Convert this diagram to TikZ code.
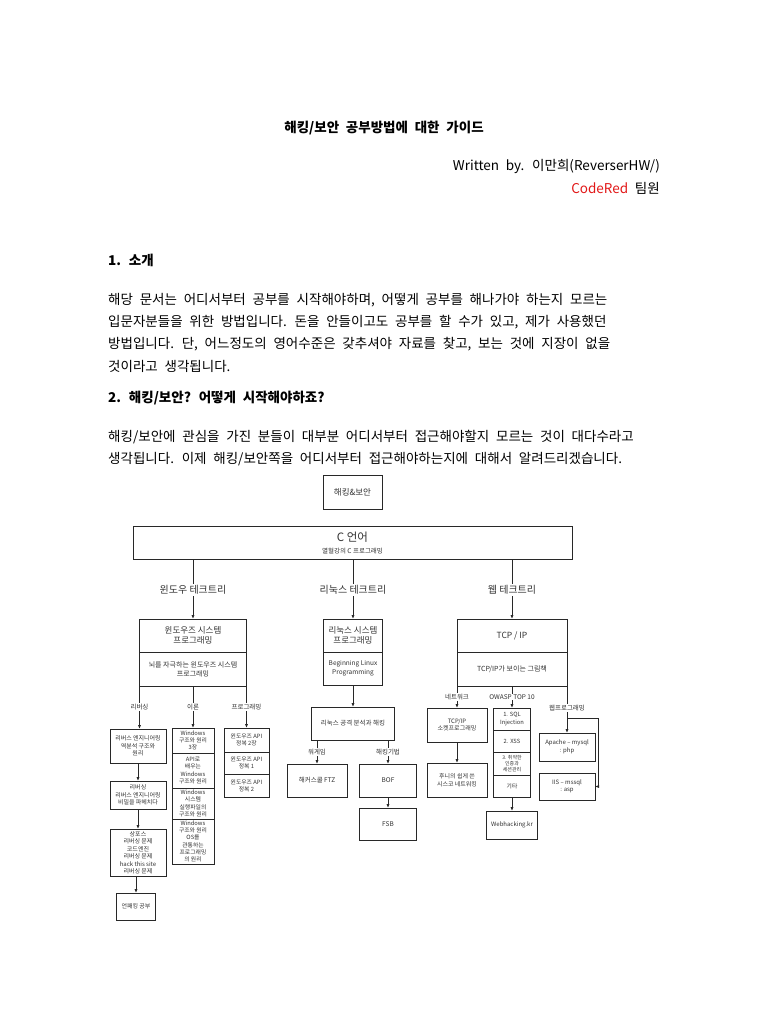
\documentclass[tikz,border=0pt]{standalone}
\usepackage{fontspec}
\setmainfont{Noto Sans CJK KR}
\usepackage{tikz}
\usepackage{xcolor}
\usetikzlibrary{positioning,arrows.meta,calc}
\definecolor{crred}{RGB}{226,24,24}
\definecolor{crline}{RGB}{40,40,40}
\definecolor{crtext}{RGB}{50,50,50}
\newcommand{\bodyfont}{\fontsize{13.5}{16}\selectfont\spaceskip=0.5em\relax}
\tikzset{
  txt/.style={anchor=west, inner sep=0pt, font=\bodyfont},
  head/.style={anchor=west, inner sep=0pt, font=\bodyfont\bfseries},
  box/.style={draw=crline, fill=white, align=center, inner sep=1pt, outer sep=0pt, line width=0.8pt, text=crtext, font=\fontsize{6}{7.5}\selectfont},
  part/.style={box, font=\fontsize{5.8}{7.2}\selectfont},
  lbl/.style={fill=white, inner sep=1pt, text=crtext, font=\fontsize{6.5}{7.5}\selectfont},
  tree/.style={fill=white, inner sep=1.5pt, text=crtext, font=\fontsize{10}{11}\selectfont},
  arrow/.style={-{Latex[length=4pt,width=3.2pt]}, line width=0.8pt, crline},
  link/.style={line width=0.8pt, crline}
}

\begin{document}
\begin{tikzpicture}[x=1pt, y=-1pt]
    \useasboundingbox[fill=white] (0,0) rectangle (768,1024);

    \node[inner sep=0pt, font=\bodyfont\bfseries] (title) at (384,128) {해킹/보안 공부방법에 대한 가이드};
    \node[txt, anchor=east] (byline) at (660,166) {Written by. 이만희(ReverserHW/)};
    \node[txt, anchor=east] (team) at (660,188) {\textcolor{crred}{CodeRed} 팀원};

    \node[head] (sec1) at (108,260) {1. 소개};
    \node[txt] (p1) at (108,300) {해당 문서는 어디서부터 공부를 시작해야하며, 어떻게 공부를 해나가야 하는지 모르는};
    \node[txt] (p2) at (108,322) {입문자분들을 위한 방법입니다. 돈을 안들이고도 공부를 할 수가 있고, 제가 사용했던};
    \node[txt] (p3) at (108,344) {방법입니다. 단, 어느정도의 영어수준은 갖추셔야 자료를 찾고, 보는 것에 지장이 없을};
    \node[txt] (p4) at (108,366) {것이라고 생각됩니다.};

    \node[head] (sec2) at (108,398) {2. 해킹/보안? 어떻게 시작해야하죠?};
    \node[txt] (q1) at (108,437) {해킹/보안에 관심을 가진 분들이 대부분 어디서부터 접근해야할지 모르는 것이 대다수라고};
    \node[txt] (q2) at (108,459) {생각됩니다. 이제 해킹/보안쪽을 어디서부터 접근해야하는지에 대해서 알려드리겠습니다.};

    \node[box, minimum width=59, minimum height=34, font=\fontsize{8.5}{9}\selectfont] (hack) at (352.5,492) {해킹\&보안};
    \node[box, minimum width=439, minimum height=33] (clang) at (352.5,542.5) {};
    \node[text=crtext, font=\fontsize{11.5}{12}\selectfont] (ctitle) at (352.5,537) {C 언어};
    \node[text=crtext, font=\fontsize{6.5}{7}\selectfont] (csub) at (352.5,551) {열혈강의 C 프로그래밍};

    \node[box, minimum width=107, minimum height=33, font=\fontsize{8.5}{10.5}\selectfont] (winA) at (193,635.5) {윈도우즈 시스템\\프로그래밍};
    \node[box, minimum width=107, minimum height=34, font=\fontsize{7}{9}\selectfont, below=0pt of winA] (winB) {뇌를 자극하는 윈도우즈 시스템\\프로그래밍};

    \node[box, minimum width=59, minimum height=33, font=\fontsize{8.5}{10.5}\selectfont] (linA) at (353,635.5) {리눅스 시스템\\프로그래밍};
    \node[box, minimum width=59, minimum height=33, font=\fontsize{6.5}{8.5}\selectfont, below=0pt of linA] (linB) {Beginning Linux\\Programming};

    \node[box, minimum width=110, minimum height=33, font=\fontsize{8.5}{10}\selectfont] (webA) at (512,635.5) {TCP / IP};
    \node[box, minimum width=110, minimum height=34, font=\fontsize{7}{8.5}\selectfont, below=0pt of webA] (webB) {TCP/IP가 보이는 그림책};

    \node[box, minimum width=56, minimum height=34] (rev1) at (138,746) {리버스 엔지니어링\\역분석 구조와\\원리};
    \node[box, minimum width=56, minimum height=28] (rev2) at (138,795) {리버싱\\리버스 엔지니어링\\비밀을 파헤치다};
    \node[box, minimum width=56, minimum height=47] (rev3) at (138,852.5) {상포스\\리버싱 문제\\코드엔진\\리버싱 문제\\hack this site\\리버싱 문제};
    \node[box, minimum width=39, minimum height=27] (rev4) at (136,906.5) {언패킹 공부};

    \node[part, minimum width=42, minimum height=25] (th1) at (193,740.5) {Windows\\구조와 원리\\3장};
    \node[part, minimum width=42, minimum height=35, below=0pt of th1] (th2) {API로\\배우는\\Windows\\구조와 원리};
    \node[part, minimum width=42, minimum height=31, below=0pt of th2] (th3) {Windows\\시스템\\실행파일의\\구조와 원리};
    \node[part, minimum width=42, minimum height=45, below=0pt of th3] (th4) {Windows\\구조와 원리\\OS를\\관통하는\\프로그래밍\\의 원리};

    \node[part, minimum width=45, minimum height=24] (pr1) at (246.5,740) {윈도우즈 API\\정복 2장};
    \node[part, minimum width=45, minimum height=22, below=0pt of pr1] (pr2) {윈도우즈 API\\정복 1};
    \node[part, minimum width=45, minimum height=23, below=0pt of pr2] (pr3) {윈도우즈 API\\정복 2};

    \node[box, minimum width=83, minimum height=33, font=\fontsize{6.5}{8}\selectfont] (latk) at (353,723.5) {리눅스 공격 분석과 해킹};
    \node[box, minimum width=60, minimum height=33, font=\fontsize{6.5}{8}\selectfont] (ftz) at (317,780.5) {해커스쿨 FTZ};
    \node[box, minimum width=57, minimum height=33, font=\fontsize{6.5}{8}\selectfont] (bof) at (388,780.5) {BOF};
    \node[box, minimum width=57, minimum height=32, font=\fontsize{6.5}{8}\selectfont] (fsb) at (388,824) {FSB};

    \node[box, minimum width=60, minimum height=34] (tcps) at (457,725) {TCP/IP\\소켓프로그래밍};
    \node[box, minimum width=60, minimum height=34] (cisco) at (457,780) {후니의 쉽게 쓴\\시스코 네트워킹};
    \node[part, minimum width=37, minimum height=22] (ow1) at (512,719) {1. SQL\\Injection};
    \node[part, minimum width=37, minimum height=22, below=0pt of ow1] (ow2) {2. XSS};
    \node[part, minimum width=37, minimum height=23, below=0pt of ow2, font=\fontsize{5}{6}\selectfont] (ow3) {3. 취약한\\인증과\\세션관리};
    \node[part, minimum width=37, minimum height=22, below=0pt of ow3] (ow4) {기타};
    \node[box, minimum width=51, minimum height=28] (whk) at (512,825) {Webhacking.kr};
    \node[box, minimum width=56, minimum height=28] (apache) at (567,747) {Apache -- mysql\\: php};
    \node[box, minimum width=56, minimum height=27] (iis) at (567,786.5) {IIS -- mssql\\: asp};

    \draw[arrow] (clang.south -| winA.north) -- (winA.north);
    \draw[arrow] (clang.south -| linA.north) -- (linA.north);
    \draw[arrow] (clang.south -| webA.north) -- (webA.north);

    \draw[arrow] (winB.south west) -- (winB.south west |- rev1.north);
    \draw[arrow] (winB.south) -- (th1.north);
    \draw[arrow] (winB.south east) -- (winB.south east |- pr1.north);
    \draw[arrow] (rev1) -- (rev2);
    \draw[arrow] (rev2) -- (rev3);
    \draw[arrow] (rev3.south -| rev4.north) -- (rev4.north);

    \draw[arrow] (linB) -- (latk);
    \draw[arrow] (latk.south -| ftz.north) -- (ftz.north);
    \draw[arrow] (latk.south -| bof.north) -- (bof.north);
    \draw[arrow] (bof) -- (fsb);

    \draw[arrow] (webB.south west) -- (webB.south west |- tcps.north);
    \draw[arrow] (webB.south) -- (ow1.north);
    \draw[arrow] (webB.south east) -- (webB.south east |- apache.north);
    \draw[arrow] (tcps) -- (cisco);
    \draw[arrow] (ow4) -- (whk);
    \coordinate (wpbend) at ($(webB.south east)+(0,32)$);
    \draw[arrow] (wpbend) -- ++(31,0) |- (iis.east);

    \node[tree] (wtree) at (193,590) {윈도우 테크트리};
    \node[tree] (ltree) at (353,590) {리눅스 테크트리};
    \node[tree] (etree) at (512,590) {웹 테크트리};

    \node[lbl] (lrev) at ($(winB.south west)+(0,21)$) {리버싱};
    \node[lbl] (lthe) at ($(winB.south)+(0,21)$) {이론};
    \node[lbl] (lpro) at ($(winB.south east)+(0,21)$) {프로그래밍};
    \node[lbl] (lwar) at ($(latk.south -| ftz.north)+(0,12)$) {워게임};
    \node[lbl] (ltec) at ($(latk.south -| bof.north)+(0,12)$) {해킹기법};
    \node[lbl] (lnet) at ($(webB.south west)+(0,11)$) {네트워크};
    \node[lbl] (lowa) at ($(webB.south)+(0,11)$) {OWASP TOP 10};
    \node[lbl] (lwpr) at ($(webB.south east)+(0,22)$) {웹프로그래밍};
\end{tikzpicture}
\end{document}
